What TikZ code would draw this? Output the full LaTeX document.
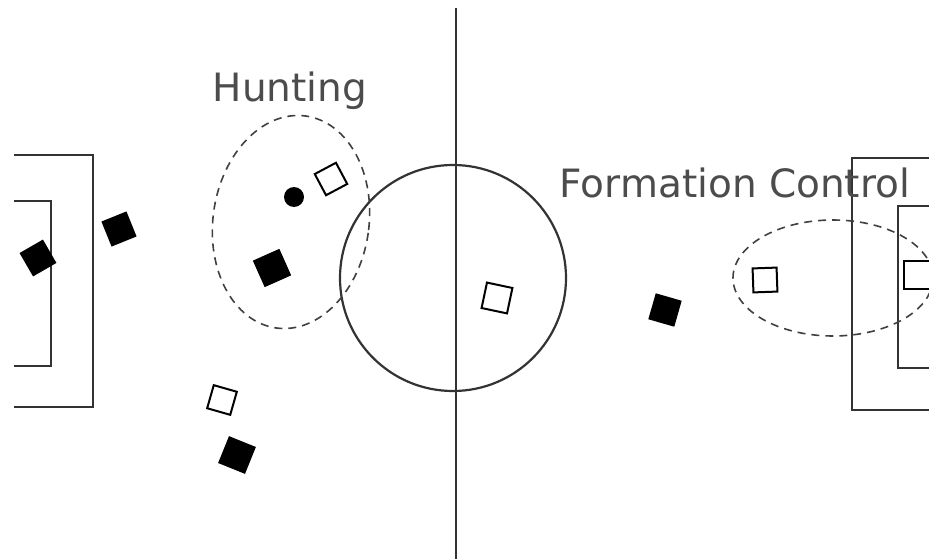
\documentclass[tikz,border=0pt]{standalone}
\usepackage{fontspec}
\setmainfont{DejaVu Sans}
\begin{document}
\begin{tikzpicture}[x=1pt,y=-1pt,
  field/.style={draw=black!80, line width=2.2pt},
  zone/.style={draw=black!75, line width=1.6pt, dash pattern=on 8pt off 6pt},
  own/.style={draw=black, line width=2pt, fill=white, minimum size=24pt, inner sep=0pt, outer sep=0pt},
  opp/.style={fill=black, minimum size=27pt, inner sep=0pt, outer sep=0pt},
  lbl/.style={font=\fontsize{39}{47}\selectfont, text=black!70, inner sep=0pt, anchor=base}]
\useasboundingbox (0,0) rectangle (929,559);
\clip (0,0) rectangle (929,559);
% field
\coordinate (midtop) at (456,8);
\coordinate (midbot) at (456,560);
\draw[field] (midtop) -- (midbot);
\node[circle, field, minimum size=226pt, inner sep=0pt] (cc) at (453,278) {};
% left goal area
\draw[field] (14,155) -- (93,155) -- (93,407) -- (14,407);
\draw[field] (14,201) -- (51,201) -- (51,366) -- (14,366);
% right goal area
\draw[field] (935,158) -- (852,158) -- (852,410) -- (935,410);
\draw[field] (935,206) -- (898,206) -- (898,368) -- (935,368);
% zones
\draw[zone, shift={(291,222)}, rotate=-8] (0,0) ellipse [x radius=78, y radius=107];
\draw[zone] (833,278) ellipse [x radius=100, y radius=58];
% labels
\node[lbl] (hunt) at (290,102) {Hunting};
\node[lbl] (form) at (735,197) {Formation Control};
% ball
\node[circle, fill=black, minimum size=20pt, inner sep=0pt] (ball) at (294,197) {};
% opponents (black)
\node[opp, rotate=30] (b1) at (38,258) {};
\node[opp, rotate=22] (b2) at (119,229) {};
\node[opp, rotate=24, minimum size=29pt] (b3) at (272,268) {};
\node[opp, rotate=-22, minimum size=29pt] (b4) at (237,455) {};
\node[opp, rotate=-16] (b5) at (665,310) {};
% own robots (white)
\node[own, rotate=28] (w1) at (331,179) {};
\node[own, rotate=-12, minimum size=26pt] (w2) at (497,298) {};
\node[own, rotate=-16] (w3) at (222,400) {};
\node[own, rotate=2] (w4) at (765,280) {};
\node[own, rotate=0, minimum size=28pt] (w5) at (918,275) {};
\end{tikzpicture}
\end{document}
